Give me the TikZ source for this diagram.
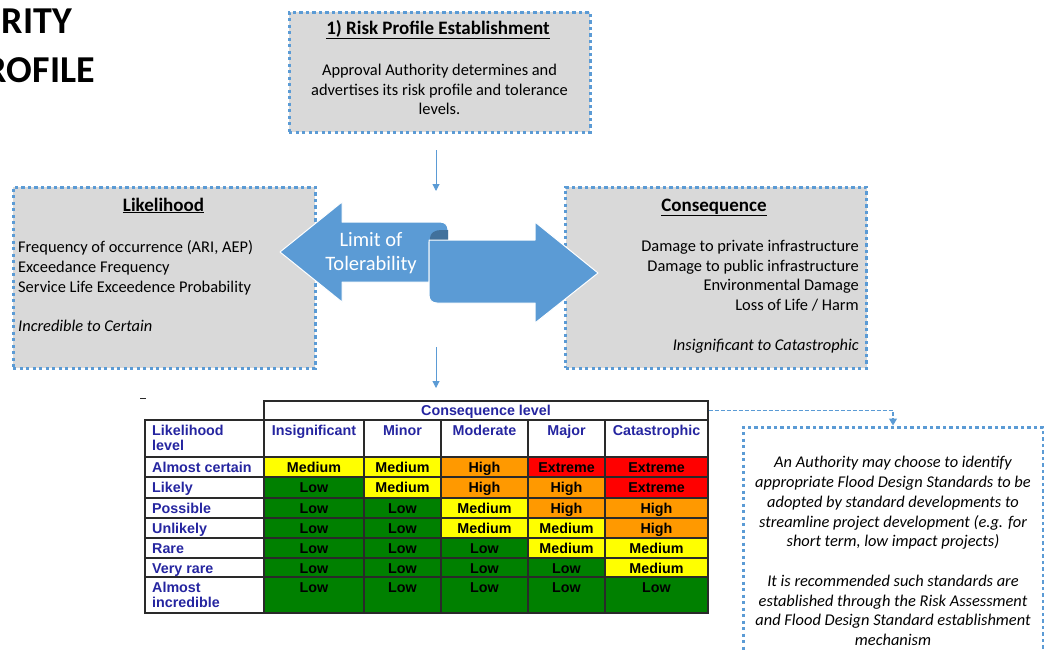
\documentclass[tikz,border=0pt]{standalone}
\usepackage{fontspec}
\setmainfont{Carlito}
\newfontfamily\arialfont{Liberation Sans}
\usetikzlibrary{arrows.meta}

\definecolor{boxgray}{HTML}{D9D9D9}
\definecolor{dotblue}{HTML}{5B9BD5}
\definecolor{curlblue}{HTML}{41719C}
\definecolor{navytext}{HTML}{2525A0}
\definecolor{gridgray}{HTML}{2A2A2A}
\definecolor{Low}{HTML}{008000}
\definecolor{Medium}{HTML}{FFFF00}
\definecolor{High}{HTML}{FF9900}
\definecolor{Extreme}{HTML}{FF0000}

\begin{document}
\begin{tikzpicture}[x=1pt,y=-1pt,
  dotbox/.style={draw=dotblue, line width=3pt, dash pattern=on 3.2pt off 3.3pt, rectangle, inner sep=0pt},
  bodytext/.style={inner sep=0pt, font=\fontsize{16.4}{19.75}\selectfont},
  boxtitle/.style={inner sep=0pt, anchor=base, font=\bfseries\fontsize{19}{22}\selectfont},
  flow/.style={draw=dotblue, line width=1pt, -{Triangle[length=7pt,width=7pt]}},
  dashlink/.style={draw=dotblue, line width=1.2pt, dash pattern=on 4pt off 2pt, -{Triangle[length=7pt,width=8pt]}},
  arrowshape/.style={fill=dotblue, draw=white, line width=1pt, line join=round},
  gridline/.style={draw=gridgray, line width=1.2pt},
  headtext/.style={inner sep=0pt, anchor=base, text=navytext, font=\arialfont\bfseries\fontsize{14.3}{15.5}\selectfont},
  rowtext/.style={headtext, anchor=base west, align=left},
  celltext/.style={inner sep=0pt, anchor=base, font=\arialfont\bfseries\fontsize{14.3}{15.5}\selectfont},
]
\useasboundingbox (0,0) rectangle (1044,651);

% page title, cut at the left edge
\node[inner sep=0pt, anchor=base east, font=\bfseries\fontsize{38}{46}\selectfont] (titleA) at (72,33) {RITY};
\node[inner sep=0pt, anchor=base east, font=\bfseries\fontsize{38}{46}\selectfont] (titleB) at (95,82) {ROFILE};

% step 1 box
\node[dotbox, fill=boxgray, minimum width=301pt, minimum height=120pt] (riskbox) at (439.5,72) {};
\node[boxtitle] (risktitle) at (438,34) {\underline{1) Risk Profile Establishment}};
\node[bodytext, align=center] (riskbody) at (439.5,89.5) {Approval Authority determines and\\advertises its risk profile and tolerance\\levels.};

% likelihood and consequence boxes
\node[dotbox, fill=boxgray, minimum width=302pt, minimum height=181pt] (likebox) at (164,277.5) {};
\node[boxtitle] (liketitle) at (163.5,211) {\underline{Likelihood}};
\node[bodytext, anchor=west, align=left] (likebody) at (18,286.5) {Frequency of occurrence (ARI, AEP)\\Exceedance Frequency\\Service Life Exceedence Probability\\[19.75pt]\textit{Incredible to Certain}};

\node[dotbox, fill=boxgray, minimum width=301pt, minimum height=181pt] (consbox) at (716,277.5) {};
\node[boxtitle] (constitle) at (714,211) {\underline{Consequence}};
\node[bodytext, anchor=east, align=right] (consbody) at (859,296.5) {Damage to private infrastructure\\Damage to public infrastructure\\Environmental Damage\\Loss of Life / Harm\\[19.75pt]\textit{Insignificant to Catastrophic}};

% scroll arrow
\path[arrowshape] (280,252) -- (342,202) -- (342,222) -- (440,222) .. controls (445,222) and (448,225) .. (448,230)
  -- (448,242) -- (429,242) -- (429,282) -- (342,282) -- (342,302) -- cycle; % left half
\path[fill=curlblue] (448,230) -- (448,241) -- (430,241) -- (430,238) .. controls (430,233) and (435,230) .. (441,230) -- cycle; % rolled end
\path[arrowshape] (429,240) -- (535,240) -- (535,222) -- (598,273) -- (535,323) -- (535,303) -- (437,303)
  .. controls (432,303) and (429,300) .. (429,295) -- cycle; % right half
\node[inner sep=0pt, align=center, text=white, font=\fontsize{20.5}{24}\selectfont] (limit) at (371,253) {Limit of\\Tolerability};

% flow arrows
\coordinate (riskout) at (436,150);
\coordinate (midin) at (436,191);
\coordinate (midout) at (436,347);
\coordinate (tablein) at (436,388);
\draw[flow] (riskout) -- (midin);
\draw[flow] (midout) -- (tablein);

\draw[gridgray, line width=0.8pt] (140,398) -- (146,398); % stray mark

% risk matrix
\node[gridline, inner sep=0pt, minimum width=444pt, minimum height=19pt] (conshead) at (486,410.5) {};
\node[headtext] (conslabel) at (486,415) {Consequence level};
\draw[gridline] (145,420) rectangle (264,457);
\node[rowtext] (likelabel) at (152,450.5) {Likelihood\\level};
\foreach \xl/\xr/\hd [count=\k] in {264/364/Insignificant, 364/441/Minor, 441/528/Moderate, 528/605/Major, 605/708/Catastrophic}
{
  \draw[gridline] (\xl,420) rectangle (\xr,457);
  \node[headtext] (head-\k) at ({(\xl+\xr)/2},435) {\hd};
}
\foreach \lab/\yt/\yb/\off/\vals [count=\r] in {
  Almost certain/457/477/15/{Medium,Medium,High,Extreme,Extreme},
  Likely/477/498/15/{Low,Medium,High,High,Extreme},
  Possible/498/518/15/{Low,Low,Medium,High,High},
  Unlikely/518/538/15/{Low,Low,Medium,Medium,High},
  Rare/538/558/15/{Low,Low,Low,Medium,Medium},
  Very rare/558/577/15/{Low,Low,Low,Low,Medium},
  {Almost\\incredible}/577/613/30.5/{Low,Low,Low,Low,Low}}
{
  \draw[gridline] (145,\yt) rectangle (264,\yb);
  \node[rowtext] (row-\r) at (152,\yt+\off) {\lab};
  \foreach \val [count=\k] in \vals {
    \pgfmathsetmacro\xl{{264,364,441,528,605}[\k-1]}
    \pgfmathsetmacro\xr{{364,441,528,605,708}[\k-1]}
    \draw[gridline, fill=\val] (\xl,\yt) rectangle (\xr,\yb);
    \node[celltext] (cell-\r-\k) at ({(\xl+\xr)/2},\yt+15) {\val};
  }
}

% note on design standards
\node[dotbox, fill=white, minimum width=300pt, minimum height=240pt] (notebox) at (893,547) {};
\node[bodytext, align=center, font=\itshape\fontsize{16.4}{19.75}\selectfont] (notebody) at (893,551) {An Authority may choose to identify\\appropriate Flood Design Standards to be\\adopted by standard developments to\\streamline project development (e.g. for\\short term, low impact projects)\\[19.75pt]It is recommended such standards are\\established through the Risk Assessment\\and Flood Design Standard establishment\\mechanism};
\draw[dashlink] (conshead.east) -| (notebox.north);

\end{tikzpicture}
\end{document}
